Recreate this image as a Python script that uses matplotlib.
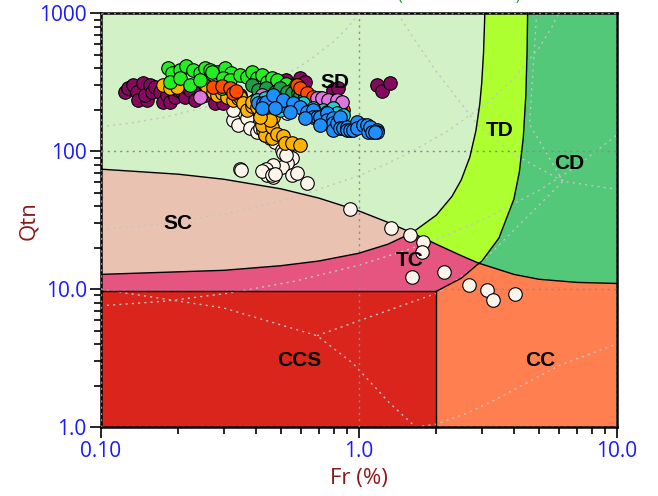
import matplotlib
matplotlib.use("Agg")
import matplotlib.pyplot as plt

# ---- zone boundaries (Fr %, Qtn) ----
cd_left_fr = [0.1, 0.2, 0.3, 0.5, 0.7, 1.0, 1.3, 1.61]
cd_left_q = [74.2, 68.2, 62.7, 53.4, 45.8, 37.0, 30.5, 25.6]
cd_mid_fr = [1.61, 2.0, 2.5, 2.93]
cd_mid_q = [25.6, 21.2, 17.5, 15.4]
cd_right_fr = [2.93, 3.0, 4.0, 5.0, 7.0, 10.0]
cd_right_q = [15.4, 15.2, 12.8, 11.8, 11.2, 11.0]

ib32_low_fr = [0.1, 0.3, 0.5, 0.7, 1.0, 1.3, 1.61]
ib32_low_q = [12.8, 13.7, 14.8, 16.0, 18.2, 21.2, 25.6]
ib32_up_fr = [1.61, 2.0, 2.3, 2.5, 2.7, 2.85, 2.95, 3.0, 3.05, 3.086]
ib32_up_q = [25.6, 34.4, 47, 62, 91, 141, 221, 310, 517, 1000]

ib22_low_fr = [2.0, 2.5, 2.93]
ib22_low_q = [9.64, 12.0, 15.4]
ib22_up_fr = [2.93, 3.0, 3.5, 4.0, 4.2, 4.35, 4.45, 4.5, 4.52]
ib22_up_q = [15.4, 15.9, 23.5, 45, 71, 126, 257, 540, 1000]

ccs_top = 9.64
fr_split = 2.0

# ---- background reference lines (dotted) ----
ic131_fr = [0.1, 0.13, 0.178, 0.251, 0.316, 0.398, 0.562, 0.631, 0.794, 0.891, 1.0]
ic131_q = [151, 160, 177, 207, 237, 281, 389, 445, 617, 760, 984]
ic205_fr = [0.1, 0.178, 0.316, 0.562, 1.0, 1.259, 1.585, 2.239, 3.162, 3.981, 5.012, 5.623, 5.957]
ic205_q = [27.0, 29.8, 35.6, 46.1, 66.4, 79.7, 98, 142, 226, 336, 565, 800, 1000]
ic26_fr = [0.1, 0.178, 0.316, 0.562, 1.0, 1.585, 2.239, 3.162, 5.012, 7.079, 10.0]
ic26_q = [7.57, 8.18, 9.38, 11.4, 14.9, 19.6, 25.0, 33.1, 52.1, 78.8, 131]
z1_fr = [0.1, 0.3, 0.69, 0.95, 1.32, 1.6, 1.67]
z1_q = [10.0, 7.3, 4.6, 2.9, 1.49, 1.07, 1.0]
z2_fr = [1.67, 2.0, 2.6, 3.37, 4.5, 6.0, 10.0]
z2_q = [1.0, 1.05, 1.25, 1.57, 2.1, 2.8, 4.0]
z34_fr = [0.69, 2.01, 2.95, 6.2, 10.0]
z34_q = [4.6, 9.35, 15.2, 60.6, 53.0]
z8_fr = [1.42, 1.6, 2.0, 2.88, 4.0, 6.2]
z8_q = [1000, 700, 380, 157, 95, 60.6]
z9_fr = [4.9, 4.75, 4.6, 6.2]
z9_q = [1000, 400, 157, 60.6]

# ---- test data (Fr %, Qtn) ----
purple_fr = [0.124, 0.128, 0.133, 0.138, 0.146, 0.140, 0.151, 0.149, 0.155, 0.158, 0.162, 0.170,
             0.174, 0.181, 0.186, 0.194, 0.199, 0.207, 0.212, 0.216, 0.222, 0.232, 0.243, 0.254,
             0.277, 0.298, 0.326, 0.347, 0.437, 0.523, 0.556, 0.592, 0.619, 0.795, 0.832, 1.18, 1.23, 1.32]
purple_q = [268, 286, 301, 268, 311, 234, 234, 255, 301, 268, 291, 268,
            226, 255, 226, 246, 277, 268, 246, 291, 277, 234, 286, 255,
            223, 223, 246, 255, 268, 327, 301, 338, 316, 277, 286, 301, 272, 311]

green_fr = [0.182, 0.189, 0.203, 0.214, 0.228, 0.243, 0.254, 0.265, 0.282, 0.303, 0.320, 0.186,
            0.203, 0.222, 0.243, 0.270, 0.295, 0.298, 0.317, 0.347, 0.369, 0.386, 0.404, 0.422,
            0.441, 0.461, 0.482, 0.509, 0.523, 0.551, 0.571, 0.609]
green_q = [399, 368, 386, 413, 386, 368, 399, 386, 374, 399, 368, 316,
           338, 301, 327, 374, 286, 338, 327, 355, 344, 374, 338, 355,
           316, 338, 327, 291, 306, 277, 301, 268]

dkgreen_fr = [0.386, 0.407, 0.437, 0.474, 0.495, 0.527, 0.551, 0.582, 0.592, 0.619]
dkgreen_q = [301, 277, 286, 268, 286, 268, 263, 263, 255, 251]

red_fr = [0.273, 0.295, 0.317, 0.326, 0.335, 0.577, 0.592, 0.630, 0.665, 0.708, 0.767, 0.832, 0.869, 0.846]
red_q = [291, 296, 286, 263, 272, 301, 286, 263, 246, 243, 234, 223, 198, 212]

pink_fr = [0.243, 0.422, 0.690, 0.721, 0.760, 0.824, 0.862]
pink_q = [246, 255, 243, 243, 234, 234, 226]

cyan_fr = [0.404, 0.434, 0.495, 0.542, 0.571, 0.603, 0.647, 0.690, 0.727, 0.754, 0.795, 0.824,
           0.869, 0.609, 0.665]
cyan_q = [234, 243, 198, 205, 212, 205, 198, 192, 198, 192, 205, 189,
          182, 223, 205]

orange_fr = [0.174, 0.186, 0.198, 0.254, 0.258, 0.258, 0.273, 0.282, 0.295, 0.309, 0.326, 0.341,
             0.347, 0.356, 0.369, 0.386, 0.386, 0.404, 0.422, 0.422, 0.441, 0.434, 0.465, 0.426,
             0.434, 0.422, 0.461, 0.461, 0.482, 0.509, 0.518, 0.551, 0.592, 0.453, 0.414]
orange_q = [301, 286, 291, 301, 277, 291, 268, 255, 263, 246, 234, 243,
            246, 223, 198, 212, 226, 208, 192, 173, 182, 162, 176, 142,
            131, 154, 124, 149, 133, 128, 114, 114, 111, 168, 176]

blue_fr = [0.407, 0.426, 0.437, 0.465, 0.504, 0.509, 0.556, 0.592, 0.630, 0.665, 0.665, 0.690,
           0.708, 0.754, 0.754, 0.795, 0.795, 0.795, 0.824, 0.846, 0.846, 0.869, 0.901, 0.901,
           0.925, 0.950, 0.985, 0.985, 1.039, 1.077, 1.087, 1.106, 1.126, 1.178, 1.178, 1.157,
           0.422, 0.474, 0.542, 0.619, 0.708]
blue_q = [223, 223, 226, 255, 215, 234, 223, 208, 192, 198, 176, 176,
          176, 189, 168, 173, 160, 142, 160, 176, 147, 147, 149, 142,
          142, 142, 162, 147, 154, 154, 137, 149, 137, 142, 137, 137,
          205, 205, 192, 173, 154]

white_fr = [0.326, 0.341, 0.369, 0.379, 0.404, 0.414, 0.434, 0.453, 0.474, 0.504, 0.527, 0.551,
            0.527, 0.504, 0.465, 0.437, 0.441, 0.465, 0.347, 0.350, 0.422, 0.461, 0.474, 0.509,
            0.523, 0.551, 0.577, 0.630, 0.925, 1.33, 1.58, 1.78, 1.76, 1.61, 2.14, 2.68,
            3.14, 3.32, 4.04, 0.243, 0.212, 0.326, 0.527, 0.396]
white_q = [168, 154, 173, 147, 137, 147, 131, 124, 116, 102, 97, 90,
           82, 77, 79, 75, 67, 65, 75, 73, 72, 67, 69, 97,
           94, 67, 70, 59, 38, 27.7, 24.6, 21.9, 18.5, 12.2, 13.3, 10.7,
           9.84, 8.3, 9.2, 263, 268, 198, 189, 234]

zone_names = ["SD", "TD", "CD", "SC", "TC", "CCS", "CC"]
zone_fr = [0.81, 3.53, 6.53, 0.2, 1.58, 0.59, 5.05]
zone_q = [316, 142, 82, 30, 16.2, 3.06, 3.06]

fig = plt.figure(figsize=(6.58, 4.96), dpi=100)
ax = fig.add_axes([0.153, 0.139, 0.784, 0.834])
ax.set_xscale("log")
ax.set_yscale("log")
ax.set_xlim(0.1, 10)
ax.set_ylim(1, 1000)

rev = lambda s: list(reversed(s))

# zone fills
sd_x = [0.1, 3.086] + rev(ib32_up_fr) + rev(cd_left_fr)
sd_y = [1000, 1000] + rev(ib32_up_q) + rev(cd_left_q)
sc_x = cd_left_fr + rev(ib32_low_fr)
sc_y = cd_left_q + rev(ib32_low_q)
tc_x = ib32_low_fr + cd_mid_fr + rev(ib22_low_fr) + [0.1]
tc_y = ib32_low_q + cd_mid_q + rev(ib22_low_q) + [ccs_top]
td_x = ib32_up_fr + rev(ib22_up_fr) + rev(cd_mid_fr)
td_y = ib32_up_q + rev(ib22_up_q) + rev(cd_mid_q)
cdz_x = ib22_up_fr + [10, 10] + rev(cd_right_fr)
cdz_y = ib22_up_q + [1000, cd_right_q[-1]] + rev(cd_right_q)
cc_x = [fr_split] + ib22_low_fr + cd_right_fr + [10]
cc_y = [1] + ib22_low_q + cd_right_q + [1]
ccs_x = [0.1, 0.1, fr_split, fr_split]
ccs_y = [1, ccs_top, ccs_top, 1]

ax.fill(sd_x, sd_y, color="#d2f1c6", lw=0, zorder=1)
ax.fill(sc_x, sc_y, color="#eac2b1", lw=0, zorder=1)
ax.fill(tc_x, tc_y, color="#e5557f", lw=0, zorder=1)
ax.fill(td_x, td_y, color="#adff2f", lw=0, zorder=1)
ax.fill(cdz_x, cdz_y, color="#52c878", lw=0, zorder=1)
ax.fill(cc_x, cc_y, color="#ff7f50", lw=0, zorder=1)
ax.fill(ccs_x, ccs_y, color="#da251d", lw=0, zorder=1)

# dotted reference lines
for fx, qy in [(ic131_fr, ic131_q), (ic205_fr, ic205_q), (ic26_fr, ic26_q), (z1_fr, z1_q),
               (z2_fr, z2_q), (z34_fr, z34_q), (z8_fr, z8_q), (z9_fr, z9_q)]:
    ax.plot(fx, qy, color="#c4c4c4", lw=1, ls=(0, (1.5, 3)), zorder=2)

ax.grid(True, which="major", color="#8a8a8a", lw=1, ls=(0, (1.5, 3)), zorder=2)
ax.set_axisbelow(False)

# boundary lines
for fx, qy in [(cd_left_fr, cd_left_q), (cd_mid_fr, cd_mid_q), (cd_right_fr, cd_right_q),
               (ib32_low_fr, ib32_low_q), (ib32_up_fr, ib32_up_q),
               (ib22_low_fr, ib22_low_q), (ib22_up_fr, ib22_up_q)]:
    ax.plot(fx, qy, color="black", lw=1, zorder=3)
ax.plot([0.1, fr_split, fr_split], [ccs_top, ccs_top, 1], color="black", lw=1, zorder=3)

# data
series = [
    (white_fr, white_q, "#fdf5ec"),
    (purple_fr, purple_q, "#850a5f"),
    (orange_fr, orange_q, "#ffb300"),
    (green_fr, green_q, "#22ee22"),
    (dkgreen_fr, dkgreen_q, "#1e9e46"),
    (red_fr, red_q, "#ff4d00"),
    (pink_fr, pink_q, "#dd77dd"),
    (cyan_fr, cyan_q, "#22cccc"),
    (blue_fr, blue_q, "#1e8fff"),
]
for fx, qy, col in series:
    ax.scatter(fx, qy, s=95, c=col, edgecolors="black", linewidths=0.8, zorder=5)

for name, fx, qy in zip(zone_names, zone_fr, zone_q):
    ax.text(fx, qy, name, ha="center", va="center", fontsize=15, fontweight="bold",
            family="Liberation Sans", zorder=6)

ax.set_xticks([0.1, 1, 10])
ax.set_xticklabels(["0.10", "1.0", "10.0"])
ax.set_yticks([1, 10, 100, 1000])
ax.set_yticklabels(["1.0", "10.0", "100", "1000"])
ax.tick_params(which="major", length=8, width=1.2, direction="out", labelsize=15,
               labelcolor="#1a1aff", pad=2)
ax.tick_params(which="minor", length=5, width=1.2, direction="out")
for lab in ax.get_xticklabels() + ax.get_yticklabels():
    lab.set_family("Open Sans")
for sp in ax.spines.values():
    sp.set_linewidth(1.8)

ax.set_xlabel("Fr (%)", fontsize=16, color="#8b1a1a", family="Open Sans", labelpad=4)
ax.set_ylabel("Qtn", fontsize=16, color="#8b1a1a", family="Open Sans", labelpad=0)

fig.text(0.79, 1.0, "Normalized SBT Chart (Robertson 2016)", ha="right", va="baseline",
         fontsize=11, color="#1e9b1e", family="Open Sans")

fig.savefig("out.png", dpi=100)
